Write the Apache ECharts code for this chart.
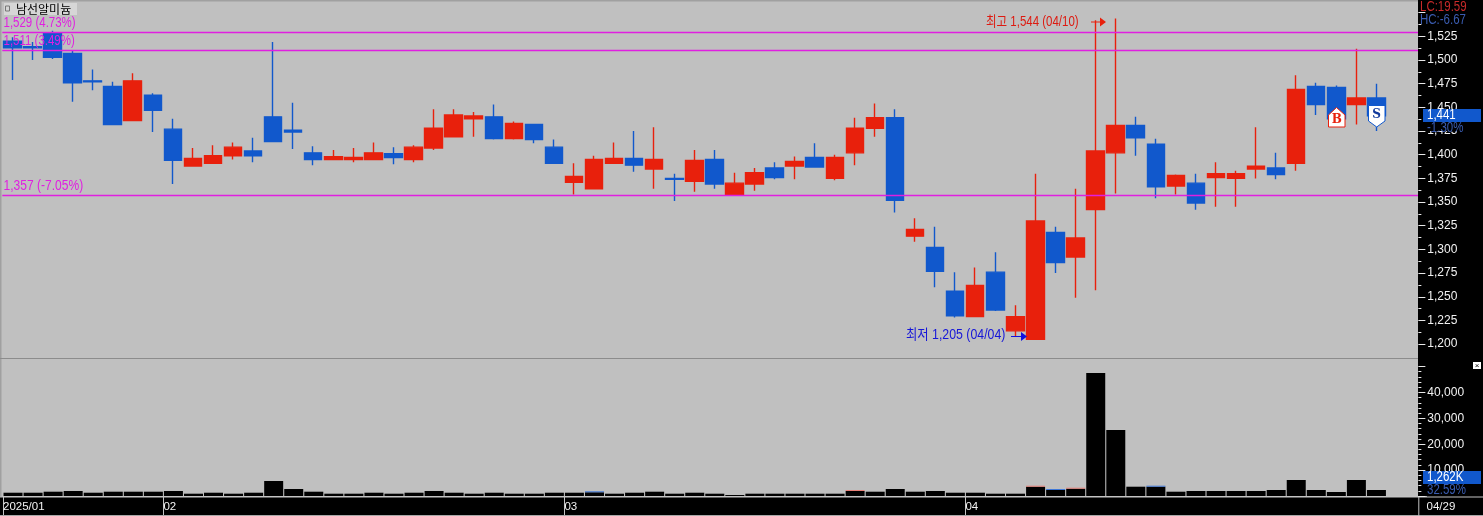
<!DOCTYPE html>
<html><head><meta charset="utf-8">
<style>html,body{margin:0;padding:0;background:#c0c0c0}#c{width:1483px;height:516px}</style>
<script src="https://cdn.jsdelivr.net/npm/echarts@6/dist/echarts.min.js"></script>
</head><body><div id="c"></div>
<script>
const categories=['01/16','01/17','01/20','01/21','01/22','01/23','01/24','01/31',
'02/03','02/04','02/05','02/06','02/07','02/10','02/11','02/12','02/13','02/14','02/17','02/18','02/19','02/20','02/21','02/24','02/25','02/26','02/27','02/28',
'03/04','03/05','03/06','03/07','03/10','03/11','03/12','03/13','03/14','03/17','03/18','03/19','03/20','03/21','03/24','03/25','03/26','03/27','03/28','03/31',
'04/01','04/02','04/03','04/04','04/07','04/08','04/09','04/10','04/11','04/14','04/15','04/16','04/17','04/18','04/21','04/22','04/23','04/24','04/25','04/28','04/29','',''];
const opens =[1520,1514,1528,1507,1478,1472,1436,1463,1427,1388,1391,1399,1404,1440,1426,1402,1395,1395,1395,1401,1395,1407,1419,1438,1440,1417,1432,1408,1371,1364,1391,1396,1385,1375,1372,1395,1358,1369,1386,1388,1397,1375,1402,1428,1439,1314,1302,1256,1229,1276,1214,1205,1318,1292,1342,1402,1431,1411,1367,1370,1376,1375,1385,1386,1391,1472,1471,1453,1460];
const closes=[1513,1513,1503,1476,1477,1432,1478,1447,1394,1396,1399,1408,1399,1414,1424,1395,1398,1397,1402,1397,1408,1428,1442,1441,1417,1433,1416,1391,1377,1395,1396,1389,1395,1374,1394,1369,1370,1381,1376,1393,1387,1397,1428,1439,1352,1321,1277,1230,1262,1236,1229,1330,1286,1312,1404,1431,1418,1366,1378,1349,1380,1380,1388,1379,1469,1453,1438,1460,1441];
const lows  =[1479,1500,1501,1456,1468,1432,1436,1424,1369,1388,1391,1395,1392,1414,1406,1389,1395,1392,1395,1390,1392,1405,1419,1419,1416,1416,1412,1391,1358,1364,1391,1382,1364,1351,1361,1364,1358,1362,1374,1374,1387,1373,1389,1419,1339,1308,1260,1228,1229,1235,1208,1205,1275,1249,1257,1359,1399,1354,1358,1342,1345,1345,1375,1374,1383,1442,1434,1432,1425];
const highs =[1524,1519,1531,1510,1490,1477,1486,1465,1438,1407,1410,1413,1418,1519,1455,1409,1405,1407,1413,1408,1410,1448,1448,1445,1453,1435,1432,1416,1391,1399,1413,1425,1429,1380,1405,1405,1381,1386,1392,1398,1412,1400,1439,1454,1448,1333,1324,1276,1281,1297,1241,1380,1324,1364,1542,1544,1440,1417,1379,1380,1392,1383,1429,1402,1484,1476,1473,1512,1475];
const volumes=[1270,1270,1660,1930,1270,1660,1660,1660,1930,890,1270,890,1270,5790,2700,1660,890,890,1270,890,1270,1930,1270,890,1270,890,890,1270,1270,1430,
890,1270,1660,890,1270,890,390,890,890,890,890,890,1930,1660,2700,1660,1930,1270,1270,890,890,3590,2320,2820,47490,25480,3590,3590,1660,1930,1930,1930,1930,2320,6180,2320,1540,6180,2320];
const accentUp=[42,51,53];
const accentDown=[29,52,57];
const levelValues=[1529,1510.1,1357];
const levelLabels=['1,529 (4.73%)','1,511 (3.49%)','1,357 (-7.05%)'];
const timeTicks={0:'2025/01',8:'02',28:'03',48:'04',71:'04/29'};
const edgeCats=Array.from({length:72},(_,i)=>timeTicks[i]||'');
const UP='#e8200c',DOWN='#1158cc',MAG='#e01fe0';
const SANS='"Liberation Sans",sans-serif';
const CJK='"Liberation Sans","Noto Sans CJK KR",sans-serif';
const gx=2.3,bw=20.06,gw=bw*71;
const candle=opens.map((o,i)=>[o,closes[i],lows[i],highs[i]]);
function txt(x,y,s,color,extra,sx){return {type:'text',z:8,x:x,y:y,scaleX:sx===undefined?0.82:sx,style:Object.assign({x:0,y:0,text:s,fill:color,font:'14px '+CJK,textVerticalAlign:'middle'},extra||{})};}
function rect(x,y,w,h,fill,z){return {type:'rect',z:z||5,silent:true,shape:{x,y,width:w,height:h},style:{fill}};}
const option={
 animation:false,backgroundColor:'#c0c0c0',
 grid:[{left:gx,top:12.7,width:gw,height:331.4,show:false},{left:gx,top:366.5,width:gw,height:129.5,show:false}],
 xAxis:[
  {type:'category',gridIndex:0,data:categories,show:false},
  {type:'category',gridIndex:1,data:categories,show:false},
  {type:'category',gridIndex:1,data:edgeCats,boundaryGap:false,position:'bottom',z:6,
   axisLine:{show:true,onZero:false,lineStyle:{color:'#c4c4c4',width:1}},
   axisTick:{show:true,length:19,lineStyle:{color:'#c4c4c4'},interval:i=>i===0||i===8||i===28||i===48},
   axisLabel:{show:true,interval:i=>timeTicks[i]!==undefined,align:'left',color:'#f2f2f2',fontFamily:SANS,fontSize:11.5,margin:5,hideOverlap:false,showMinLabel:true,showMaxLabel:true},
   splitLine:{show:false}}
 ],
 yAxis:[
  {type:'value',gridIndex:0,position:'right',offset:-8.2,z:6,min:1200,max:1550,interval:25,
   axisLine:{show:false},splitLine:{show:false},
   axisTick:{show:true,length:7,lineStyle:{color:'#e8e8e8'}},
   minorTick:{show:true,splitNumber:2,length:3,lineStyle:{color:'#e8e8e8'}},
   axisLabel:{show:true,color:'#f2f2f2',fontFamily:SANS,fontSize:12,margin:9,showMinLabel:true,showMaxLabel:true,formatter:v=>v===1550?'':v.toLocaleString('en-US')}},
  {type:'value',gridIndex:1,position:'right',offset:-8.2,z:6,min:0,max:50000,interval:10000,
   axisLine:{show:false},splitLine:{show:false},
   axisTick:{show:true,length:7,lineStyle:{color:'#e8e8e8'}},
   minorTick:{show:true,splitNumber:5,length:3,lineStyle:{color:'#e8e8e8'}},
   axisLabel:{show:true,color:'#f2f2f2',fontFamily:SANS,fontSize:12,margin:9,padding:[0,0,3,0],formatter:v=>(v===0||v===50000)?'':v.toLocaleString('en-US')}}
 ],
 series:[
  {type:'candlestick',name:'남선알미늄',xAxisIndex:0,yAxisIndex:0,data:candle,barWidth:18,clip:false,
   itemStyle:{color:UP,color0:DOWN,borderColor:UP,borderColor0:DOWN,borderWidth:1.4},
   markLine:{silent:true,symbol:'none',animation:false,z:3,
    lineStyle:{color:MAG,width:1.3,type:'solid'},
    label:{show:false},
    data:levelValues.map(v=>({yAxis:v}))}},
  {type:'bar',name:'거래량',xAxisIndex:1,yAxisIndex:1,data:volumes,stack:'v',barWidth:19,itemStyle:{color:'#000'}},
  {type:'bar',name:'변동',xAxisIndex:1,yAxisIndex:1,stack:'v',barWidth:19,
   data:volumes.map((_,i)=>accentUp.includes(i)?{value:390,itemStyle:{color:'#e88078'}}:accentDown.includes(i)?{value:390,itemStyle:{color:'#3f78d8'}}:0)}
 ],
 graphic:{elements:[
  rect(0,0,1483,1.5,'#a0a0a0',3),rect(0,0,1.5,516,'#a0a0a0',3),
  rect(0,358,1418,1,'#8c8c8c',3),
  rect(1418,0,65,516,'#000',5),
  rect(0,497,1483,19,'#000',5),
  rect(0,496.5,1483,1,'#c4c4c4',5),
  rect(0,515,1483,1,'#a8a8a8',7),
  rect(1418.3,497,1,19,'#c4c4c4',7),
  rect(4,3,73,12,'#d6d6d6',7),
  {type:'rect',z:8,shape:{x:5.5,y:6,width:4,height:5},style:{fill:'none',stroke:'#777',lineWidth:1}},
  txt(16,9,'남선알미늄','#000',{font:'12px "Noto Sans CJK KR",sans-serif'},1),
  txt(3.5,23,levelLabels[0],MAG),txt(3.5,41,levelLabels[1],MAG),txt(3.5,186,levelLabels[2],MAG,null,0.86),
  txt(986,22,'최고 1,544 (04/10)','#dd1a10'),
  {type:'polyline',z:8,shape:{points:[[1091,22],[1100,22]]},style:{stroke:'#e8200c',fill:null,lineWidth:1}},
  {type:'polygon',z:8,shape:{points:[[1100,17.5],[1106,22],[1100,26.5]]},style:{fill:'#e8200c'}},
  txt(906,335,'최저 1,205 (04/04)','#1616d8',null,0.88),
  {type:'polyline',z:8,shape:{points:[[1011,336.5],[1021,336.5]]},style:{stroke:'#1010e0',fill:null,lineWidth:1}},
  {type:'polygon',z:8,shape:{points:[[1021,332],[1027,336.5],[1021,341]]},style:{fill:'#1010e0'}},
  {type:'polygon',z:8,shape:{points:[[1336.5,107.5],[1345,115],[1345,127],[1328.5,127],[1328.5,115]]},style:{fill:'#fff',stroke:'#e8200c',lineWidth:1}},
  txt(1336.7,119.5,'B','#e8200c',{font:'bold 12px "DejaVu Serif",serif',textAlign:'center'},1),
  {type:'polygon',z:8,shape:{points:[[1368.5,105.5],[1385,105.5],[1385,121],[1376.7,127],[1368.5,121]]},style:{fill:'#fff',stroke:'#1158cc',lineWidth:1}},
  txt(1376.7,114.5,'S','#123a9c',{font:'bold 12px "DejaVu Serif",serif',textAlign:'center'},1),
  txt(1420,7.5,'LC:19.59','#c82a2a'),txt(1420,20,'HC:-6.67','#3a5cb0'),
  rect(1423,122,58,9,'#000',7),
  rect(1423,109,58,13,'#1158cc',7),txt(1427,115.5,'1,441','#fff'),txt(1427,128,'-1.30%','#3a5cb0'),
  rect(1423,471,58,13,'#1158cc',7),txt(1427,477.5,'1,262K','#fff'),txt(1427,490,'32.59%','#3a5cb0'),
  rect(1473,362,8,7,'#fff',7),txt(1477,365.5,'×','#000',{font:'8px sans-serif',textAlign:'center'},1)
 ]}
};
echarts.init(document.getElementById('c'),null,{renderer:'canvas'}).setOption(option);
</script></body></html>
